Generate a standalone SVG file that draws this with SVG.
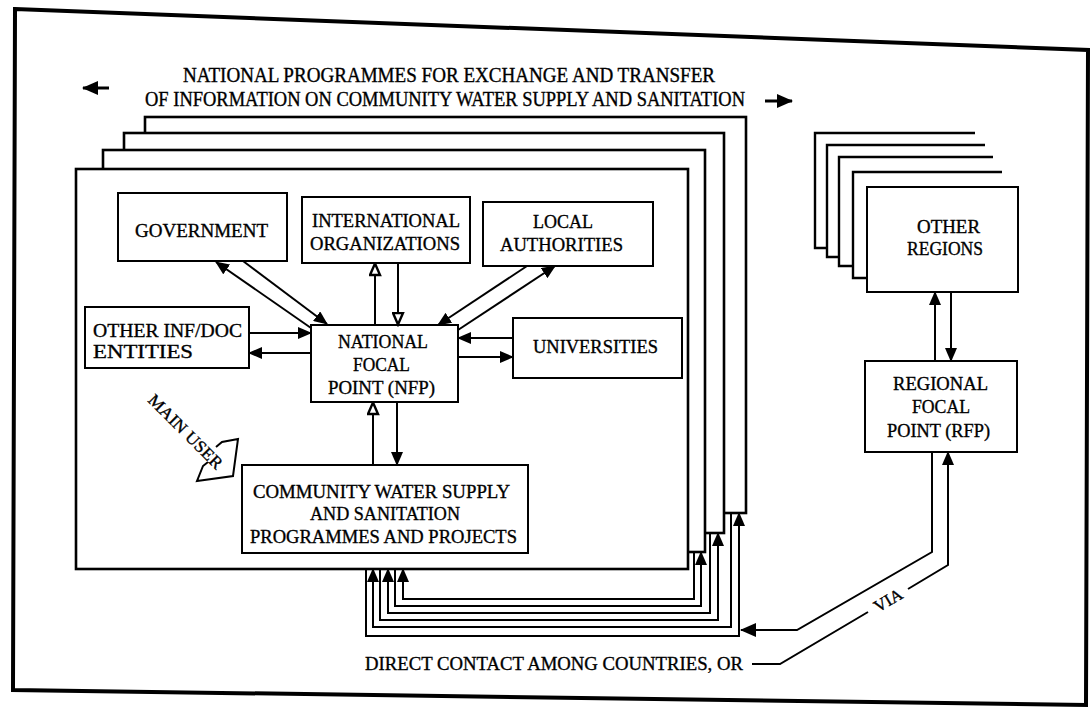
<svg xmlns="http://www.w3.org/2000/svg" width="1092" height="725" viewBox="0 0 1092 725">
  <defs>
    <marker id="ah" markerUnits="userSpaceOnUse" markerWidth="14" markerHeight="12" viewBox="0 0 14 12" refX="13" refY="6" orient="auto">
      <path d="M0,0 L14,6 L0,12 Z" fill="#000"/>
    </marker>
    <marker id="ahOpen" markerUnits="userSpaceOnUse" markerWidth="15" markerHeight="13" viewBox="0 0 15 13" refX="13.5" refY="6.5" orient="auto">
      <path d="M1.5,1.5 L13,6.5 L1.5,11.5 Z" fill="#fff" stroke="#000" stroke-width="2.4" stroke-linejoin="miter"/>
    </marker>
    <marker id="ahBig" markerUnits="userSpaceOnUse" markerWidth="16" markerHeight="14" viewBox="0 0 16 14" refX="15" refY="7" orient="auto">
      <path d="M0,0 L16,7 L0,14 Z" fill="#000"/>
    </marker>
  </defs>
  <style>
    .box{fill:#fff;stroke:#000;stroke-width:2}
    .page{fill:#fff;stroke:#000;stroke-width:2.6}
    .stack{fill:none;stroke:#000;stroke-width:2.4;stroke-linejoin:miter}
    .ln{fill:none;stroke:#000;stroke-width:2}
    .lbl{font-family:"Liberation Serif","Times New Roman",serif;font-size:19.5px;fill:#000;stroke:#000;stroke-width:0.35}
    .head{font-size:20px}
    .small{font-size:17px}
  </style>

  <rect width="1092" height="725" fill="#fff"/>

  <!-- outer frame -->
  <path d="M15,9 L1088,50 L1086,705 L13,690 Z" fill="none" stroke="#000" stroke-width="4"/>

  <!-- heading with side arrows -->
  <g id="heading">
    <text class="lbl head" x="183" y="82" textLength="532" lengthAdjust="spacingAndGlyphs">NATIONAL PROGRAMMES FOR EXCHANGE AND TRANSFER</text>
    <text class="lbl head" x="145" y="106" textLength="600" lengthAdjust="spacingAndGlyphs">OF INFORMATION ON COMMUNITY WATER SUPPLY AND SANITATION</text>
    <line x1="109" y1="88" x2="83" y2="88" stroke="#000" stroke-width="3" marker-end="url(#ahBig)"/>
    <line x1="765" y1="101" x2="792" y2="101" stroke="#000" stroke-width="3" marker-end="url(#ahBig)"/>
  </g>

  <!-- stack of national programme sheets -->
  <g id="national-stack">
    <rect class="page" x="145" y="117" width="601" height="396"/>
    <rect class="page" x="124" y="133" width="600" height="400"/>
    <rect class="page" x="103" y="150" width="602" height="402"/>
    <rect class="page" x="76" y="169" width="612" height="400" stroke-width="3"/>
  </g>

  <!-- stack of other regions -->
  <g id="other-regions">
    <polyline class="stack" points="975,133 815,133 815,248 827,248"/>
    <polyline class="stack" points="985,145 827,145 827,257 839,257"/>
    <polyline class="stack" points="993,157 839,157 839,266 853,266"/>
    <polyline class="stack" points="1002,172 853,172 853,278 867,278"/>
    <rect class="box" x="867" y="187" width="151" height="105" stroke-width="2.4"/>
    <text class="lbl" x="917" y="233" textLength="63" lengthAdjust="spacingAndGlyphs">OTHER</text>
    <text class="lbl" x="907" y="255" textLength="76" lengthAdjust="spacingAndGlyphs">REGIONS</text>
  </g>

  <g id="government">
    <rect class="box" x="118" y="193" width="169" height="68"/>
    <text class="lbl" x="135" y="237" textLength="133" lengthAdjust="spacingAndGlyphs">GOVERNMENT</text>
  </g>

  <g id="international-organizations">
    <rect class="box" x="302" y="197" width="168" height="66"/>
    <text class="lbl" x="312" y="227" textLength="148" lengthAdjust="spacingAndGlyphs">INTERNATIONAL</text>
    <text class="lbl" x="310" y="250" textLength="150" lengthAdjust="spacingAndGlyphs">ORGANIZATIONS</text>
  </g>

  <g id="local-authorities">
    <rect class="box" x="483" y="202" width="170" height="64"/>
    <text class="lbl" x="533" y="228" textLength="60" lengthAdjust="spacingAndGlyphs">LOCAL</text>
    <text class="lbl" x="500" y="251" textLength="123" lengthAdjust="spacingAndGlyphs">AUTHORITIES</text>
  </g>

  <g id="other-inf-doc">
    <rect class="box" x="85" y="307" width="164" height="61"/>
    <text class="lbl" x="93" y="337" textLength="149" lengthAdjust="spacingAndGlyphs">OTHER INF/DOC</text>
    <text class="lbl" x="93" y="358" textLength="100" lengthAdjust="spacingAndGlyphs">ENTITIES</text>
  </g>

  <g id="universities">
    <rect class="box" x="513" y="318" width="169" height="60"/>
    <text class="lbl" x="533" y="353" textLength="125" lengthAdjust="spacingAndGlyphs">UNIVERSITIES</text>
  </g>

  <g id="nfp">
    <rect class="box" x="311" y="325" width="147" height="77" stroke-width="3.5"/>
    <text class="lbl" x="338" y="348" textLength="90" lengthAdjust="spacingAndGlyphs">NATIONAL</text>
    <text class="lbl" x="353" y="371" textLength="57" lengthAdjust="spacingAndGlyphs">FOCAL</text>
    <text class="lbl" x="328" y="394" textLength="107" lengthAdjust="spacingAndGlyphs">POINT (NFP)</text>
  </g>

  <g id="community-programmes">
    <rect class="box" x="242" y="465" width="286" height="88"/>
    <text class="lbl" x="253" y="498" textLength="257" lengthAdjust="spacingAndGlyphs">COMMUNITY WATER SUPPLY</text>
    <text class="lbl" x="310" y="520" textLength="150" lengthAdjust="spacingAndGlyphs">AND SANITATION</text>
    <text class="lbl" x="250" y="543" textLength="267" lengthAdjust="spacingAndGlyphs">PROGRAMMES AND PROJECTS</text>
  </g>

  <g id="main-user">
    <text class="lbl small" transform="translate(147,401) rotate(45)" x="0" y="0" textLength="98" lengthAdjust="spacingAndGlyphs">MAIN USER</text>
    <path d="M216,447 L222,442 L238,439 L233,476 L197,481 L203,466 L208,462" fill="none" stroke="#000" stroke-width="2"/>
  </g>

  <g id="rfp">
    <rect class="box" x="865" y="361" width="152" height="91" stroke-width="2.4"/>
    <text class="lbl" x="893" y="390" textLength="95" lengthAdjust="spacingAndGlyphs">REGIONAL</text>
    <text class="lbl" x="912" y="413" textLength="58" lengthAdjust="spacingAndGlyphs">FOCAL</text>
    <text class="lbl" x="887" y="437" textLength="103" lengthAdjust="spacingAndGlyphs">POINT (RFP)</text>
  </g>

  <!-- connectors -->
  <g id="connectors">
    <!-- government -->
    <line class="ln" x1="311" y1="328" x2="216" y2="262" marker-end="url(#ah)"/>
    <line class="ln" x1="243" y1="261" x2="327" y2="324" marker-end="url(#ah)"/>
    <!-- international organizations -->
    <line class="ln" x1="375" y1="325" x2="375" y2="263" marker-end="url(#ahOpen)"/>
    <line class="ln" x1="398" y1="263" x2="398" y2="325" marker-end="url(#ahOpen)"/>
    <!-- local authorities -->
    <line class="ln" x1="527" y1="266" x2="438" y2="325" marker-end="url(#ah)"/>
    <line class="ln" x1="458" y1="330" x2="555" y2="266" marker-end="url(#ah)"/>
    <!-- other inf/doc entities -->
    <line class="ln" x1="249" y1="333" x2="311" y2="333" marker-end="url(#ah)"/>
    <line class="ln" x1="311" y1="353" x2="249" y2="353" marker-end="url(#ah)"/>
    <!-- universities -->
    <line class="ln" x1="513" y1="338" x2="458" y2="338" marker-end="url(#ah)"/>
    <line class="ln" x1="458" y1="357" x2="513" y2="357" marker-end="url(#ah)"/>
    <!-- community programmes -->
    <line class="ln" x1="373" y1="465" x2="373" y2="402" marker-end="url(#ahOpen)"/>
    <line class="ln" x1="397" y1="402" x2="397" y2="465" marker-end="url(#ah)"/>
    <!-- other regions and regional focal point -->
    <line class="ln" x1="935" y1="361" x2="935" y2="292" marker-end="url(#ah)"/>
    <line class="ln" x1="951" y1="292" x2="951" y2="361" marker-end="url(#ah)"/>

    <!-- direct contact loops between sheets -->
    <path class="ln" d="M694,552 L694,599 L403,599 L403,569" marker-end="url(#ah)"/>
    <path class="ln" d="M395,569 L395,606 L701,606 L701,552" marker-end="url(#ah)"/>
    <path class="ln" d="M710,533 L710,613 L388,613 L388,569" marker-end="url(#ah)"/>
    <path class="ln" d="M380,569 L380,620 L718,620 L718,533" marker-end="url(#ah)"/>
    <path class="ln" d="M731,513 L731,627 L373,627 L373,569" marker-end="url(#ah)"/>
    <path class="ln" d="M366,569 L366,636 L739,636 L739,513" marker-end="url(#ah)"/>

    <!-- via the regional focal point -->
    <path class="ln" d="M932,452 L932,552 L797,630 L741,630" marker-end="url(#ahBig)"/>
    <path class="ln" d="M752,664 L780,664 L868,612"/>
    <path class="ln" d="M908,589 L948,565 L948,452" marker-end="url(#ah)"/>
  </g>

  <text class="lbl small" transform="translate(888,600) rotate(-30.5)" x="0" y="6" text-anchor="middle">VIA</text>
  <text class="lbl" x="365" y="670" textLength="378" lengthAdjust="spacingAndGlyphs">DIRECT CONTACT AMONG COUNTRIES, OR</text>
</svg>
